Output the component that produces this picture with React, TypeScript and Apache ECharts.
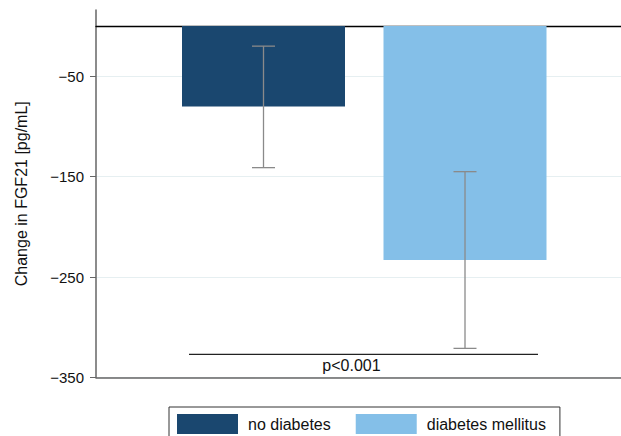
import React, { useEffect, useRef } from "react";
import * as echarts from "echarts";

const categories = ["no diabetes", "diabetes mellitus"];
const meanChange = [-80, -233];
const ciLower = [-141, -321];
const ciUpper = [-20, -145];
const yTicks = [-350, -250, -150, -50];
const pValueLevel = -327;
const pValueText = "p<0.001";
const yTitle = "Change in FGF21 [pg/mL]";
const colors = ["#1a476f", "#84bfe8"];

const FONT = "'Liberation Sans', Arial, Helvetica, sans-serif";

export default function App() {
  const ref = useRef<HTMLDivElement>(null);
  useEffect(() => {
    if (!ref.current) return;
    const chart = echarts.init(ref.current, undefined, { renderer: "svg" });
    const yMin = -350;
    const yMax = 16;
    const barSeries = categories.map((name, i) => ({
      name,
      type: "bar",
      stack: "g",
      xAxisIndex: 0,
      yAxisIndex: 0,
      barWidth: 163,
      itemStyle: { color: colors[i] },
      data: categories.map((_, j) => (j === i ? meanChange[i] : "-")),
      z: 3,
    }));
    chart.setOption({
      animation: false,
      textStyle: { fontFamily: FONT },
      grid: [
        { left: 162.75, right: 55.25, top: 10, bottom: 58.5 },
        { left: 96, right: 0, top: 10, bottom: 58.5 },
      ],
      legend: {
        left: 169,
        top: 407,
        orient: "horizontal",
        data: categories,
        itemWidth: 61,
        itemHeight: 20,
        itemGap: 25,
        padding: [7, 14, 7, 8],
        borderColor: "#333",
        borderWidth: 1,
        borderRadius: 0,
        icon: "rect",
        textStyle: { fontSize: 16, color: "#111", fontFamily: FONT, padding: [0, 0, 0, 5] },
        selectedMode: false,
      },
      xAxis: [
        {
          type: "category",
          gridIndex: 0,
          data: categories,
          show: false,
        },
        {
          type: "value",
          gridIndex: 1,
          min: 0,
          max: 1,
          position: "bottom",
          axisLine: { show: true, onZero: false, lineStyle: { color: "#666", width: 1.5 } },
          axisTick: { show: false },
          axisLabel: { show: false },
          splitLine: { show: false },
        },
        {
          type: "value",
          gridIndex: 1,
          min: 0,
          max: 1,
          position: "top",
          axisLine: { show: true, onZero: true, lineStyle: { color: "#000", width: 1.3 } },
          axisTick: { show: false },
          axisLabel: { show: false },
          splitLine: { show: false },
        },
      ],
      yAxis: [
        {
          type: "value",
          gridIndex: 0,
          min: yMin,
          max: yMax,
          show: false,
          splitLine: { show: false },
        },
        {
          type: "value",
          gridIndex: 1,
          min: yMin,
          max: yMax,
          name: yTitle,
          nameLocation: "middle",
          nameGap: 67,
          nameTextStyle: { fontSize: 16, color: "#111", fontFamily: FONT },
          axisLine: { show: true, lineStyle: { color: "#666", width: 1.5 } },
          axisTick: { show: true, length: 6, lineStyle: { color: "#666" }, customValues: yTicks },
          axisLabel: {
            fontSize: 15,
            color: "#111",
            margin: 12,
            fontFamily: FONT,
            customValues: yTicks,
            formatter: (v: number) => String(v).replace("-", "\u2212"),
          },
          splitLine: { show: true, lineStyle: { color: "#e6eff1", width: 1 } },
        },
      ],
      series: [
        ...barSeries,
        {
          type: "custom",
          name: "ci",
          xAxisIndex: 0,
          yAxisIndex: 0,
          z: 5,
          silent: true,
          encode: { x: 0, y: [1, 2] },
          data: categories.map((_, i) => [i, ciLower[i], ciUpper[i]]),
          renderItem: (params: any, api: any) => {
            const x = api.value(0);
            const lo = api.coord([x, api.value(1)]);
            const hi = api.coord([x, api.value(2)]);
            const half = 11.5;
            const style = { stroke: "#8a8a8a", lineWidth: 1.3 };
            return {
              type: "group",
              children: [
                { type: "line", shape: { x1: lo[0], y1: lo[1], x2: hi[0], y2: hi[1] }, style },
                { type: "line", shape: { x1: lo[0] - half, y1: lo[1], x2: lo[0] + half, y2: lo[1] }, style },
                { type: "line", shape: { x1: hi[0] - half, y1: hi[1], x2: hi[0] + half, y2: hi[1] }, style },
              ],
            };
          },
        },
        {
          type: "custom",
          name: "pval",
          xAxisIndex: 0,
          yAxisIndex: 0,
          z: 5,
          silent: true,
          data: [[0, pValueLevel]],
          renderItem: (params: any, api: any) => {
            const y = api.value(1);
            const c0 = api.coord([0, y]);
            const c1 = api.coord([1, y]);
            const x1 = c0[0] - 74.5;
            const x2 = c1[0] + 73;
            return {
              type: "group",
              children: [
                { type: "line", shape: { x1, y1: c0[1], x2, y2: c0[1] }, style: { stroke: "#222", lineWidth: 1.2 } },
                {
                  type: "text",
                  x: (x1 + x2) / 2 - 12,
                  y: c0[1] + 3,
                  style: {
                    text: pValueText,
                    fontSize: 16,
                    fontFamily: FONT,
                    fill: "#111",
                    align: "center",
                    verticalAlign: "top",
                  },
                },
              ],
            };
          },
        },
      ],
    });
    return () => chart.dispose();
  }, []);
  return <div ref={ref} style={{ width: 621, height: 436, position: "absolute", left: 0, top: 0 }} />;
}
